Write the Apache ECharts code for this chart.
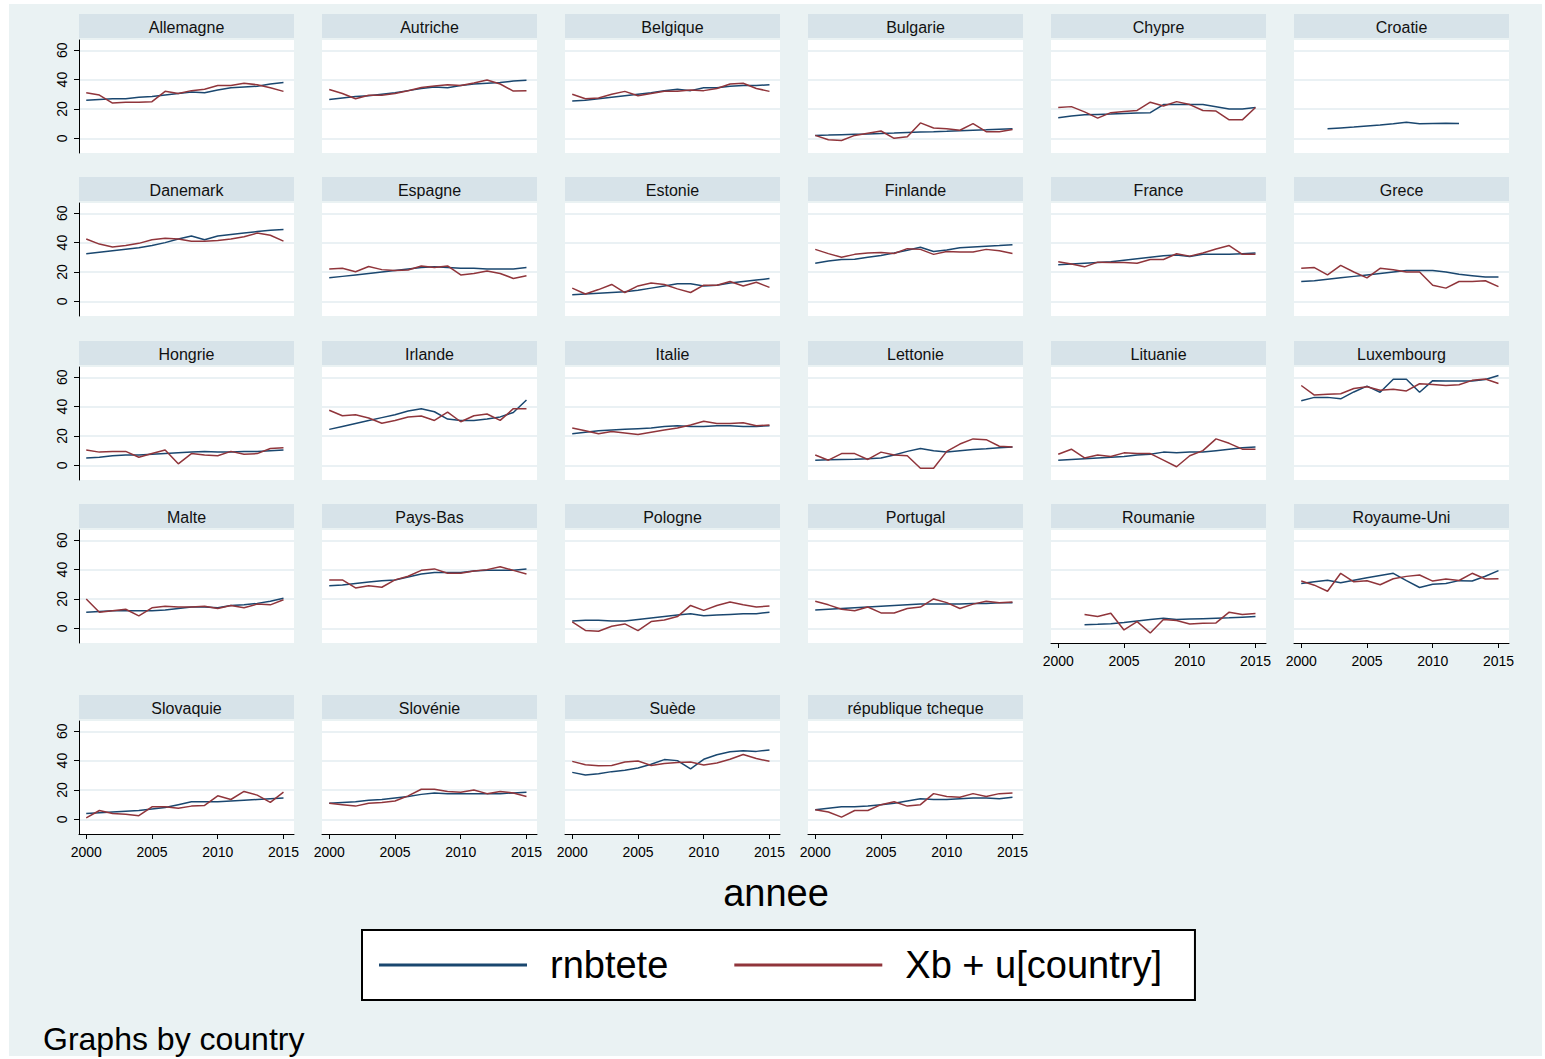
<!DOCTYPE html>
<html><head><meta charset="utf-8">
<script src="https://cdn.jsdelivr.net/npm/echarts@6/dist/echarts.min.js"></script>
<style>
html,body{margin:0;padding:0;background:#fff;}
#bg{position:absolute;left:9px;top:4px;width:1533px;height:1052px;background:#eaf2f3;}
#c{position:absolute;left:0;top:0;width:1545px;height:1059px;}
</style>
</head><body><div id="bg"></div><div id="c"></div>
<script>
const years = [2000,2001,2002,2003,2004,2005,2006,2007,2008,2009,2010,2011,2012,2013,2014,2015];
const xTicks = [2000,2005,2010,2015];
const yTicks = [0,20,40,60];
const countries = ['Allemagne','Autriche','Belgique','Bulgarie','Chypre','Croatie',
  'Danemark','Espagne','Estonie','Finlande','France','Grece',
  'Hongrie','Irlande','Italie','Lettonie','Lituanie','Luxembourg',
  'Malte','Pays-Bas','Pologne','Portugal','Roumanie','Royaume-Uni',
  'Slovaquie','Slovénie','Suède','république tcheque'];

const allemagne_rnb = [26,26.5,27,27,28,28.5,29.5,30.5,31.5,31,33,34.5,35,35.5,37,38];
const allemagne_xb  = [31,29.5,24,24.5,24.5,25,32,30.5,32.5,33.5,36,36,37.5,36.5,34.5,32];
const autriche_rnb = [26.5,27.5,28.5,29,30,31,32.5,34,35,34.5,36,37,37.5,38,39,39.5];
const autriche_xb  = [33.3,30.5,27,29.4,29.4,30.5,32.4,34.7,35.6,36.5,36,37.7,39.8,37,32.2,32.4];
const belgique_rnb = [25.5,26,27,28,29,30,31,32.5,33.5,32.5,34.5,34.5,35.5,36,36,36.5];
const belgique_xb  = [30,27,27.5,30,32,29,30.5,32,32,33,32.5,34,37,37.5,34,32];
const bulgarie_rnb = [2,2.2,2.5,2.8,3,3.3,3.6,4,4.3,4.5,4.8,5.2,5.5,5.8,6.2,6.5];
const bulgarie_xb  = [2,-1,-1.5,2,3.5,5,0,1,10.5,7,6.5,5.5,10,4.5,4.5,6];
const chypre_rnb = [14,15.2,16,16.3,16.6,17,17.3,17.5,23,23,23,23,21.5,20,20,21];
const chypre_xb  = [21,21.6,18,13.8,17.5,18.3,19,24.6,22,25,23,19,18.6,12.6,12.6,21];
const croatie_rnb = [null,null,6.5,7.1,7.7,8.4,9.1,9.9,11,10,10.1,10.2,10.1,null,null,null];
const croatie_xb  = [null,null,null,null,null,null,null,null,null,null,null,null,null,null,null,null];
const danemark_rnb = [32.5,33.5,34.5,35.5,36.5,38,40,42.5,44.5,42,44.5,45.5,46.5,47.5,48.5,49];
const danemark_xb  = [42.5,39,37,38,39.5,42,43,42.5,41,41,41.5,42.5,44,46.5,45,41];
const espagne_rnb = [16,17,18,19,20,21,22,23,23.5,23,22.5,22.5,22,22,22,23];
const espagne_xb  = [22,22.5,20.2,23.7,21.6,21,21.4,24.1,23,24.1,18,19,20.7,19,15.6,17.5];
const estonie_rnb = [4.5,5,5.5,6,6.5,7.5,9,10.5,12,12,10.5,11,12.5,13.5,14.5,15.5];
const estonie_xb  = [9,5,8,11.5,6,10.5,12.5,11.5,8.5,6,11,11,13.5,10.5,13,9.5];
const finlande_rnb = [26,27.5,28.5,28.7,30,31.3,33,34.8,36.8,34,35,36.5,37,37.5,38,38.6];
const finlande_xb  = [35.4,32.5,30,32,33,33.3,32.6,35.9,35.4,32,34,33.6,33.6,35.4,34.5,32.6];
const france_rnb = [25,25.5,26,26.5,27,28,29,30,31,31.5,30.5,32,32,32,32.5,33];
const france_xb  = [27,25.5,23.5,26.7,26.5,26.5,26,28.5,28.5,32.4,30.8,32.9,35.6,38,32,32];
const grece_rnb = [13.5,14,15,16,17,18,19,20,21,21,21,20,18.5,17.5,16.5,16.5];
const grece_xb  = [22.5,23,18,24.5,20,16,22.5,21.5,20,20,11,9,13.5,13.5,14,10];
const hongrie_rnb = [5,5.5,6.5,7,7,7.5,8,8.5,9,9.5,9,9,9.5,9.5,10,10.5];
const hongrie_xb  = [10.5,9,9.5,9.5,5.5,8,10.5,1,8,7,6.5,9.5,7.5,8,11.5,12];
const irlande_rnb = [24.5,26.5,28.5,30.5,32.5,34.5,37,38.5,36.5,31.5,30.5,30.5,31.5,33,36,44.5];
const irlande_xb  = [37.5,33.8,34.5,32.2,28.7,30.6,32.9,33.6,30.6,36.3,29.7,33.8,35,30.6,38.6,38.6];
const italie_rnb = [21.5,22.5,23.5,24,24.5,25,25.5,26.5,27,26.5,26.5,27,27,26.5,26.5,27];
const italie_xb  = [25.5,23.5,21.5,23,22,21,22.5,24,25.5,27.5,30,28.5,28.5,29,27,27.5];
const lettonie_rnb = [3.5,3.8,4,4.2,4.5,5,7,9.5,11.5,10,9,10,10.8,11.3,12,12.5];
const lettonie_xb  = [7,3.5,8,8,4,9,7,6.5,-2,-2,9.5,14.5,18,17.5,13,12.5];
const lituanie_rnb = [3.5,4,4.5,5,5.5,6,7,7.5,9,8.5,9,9,10,11,12,12.5];
const lituanie_xb  = [7.5,11,5,7,6,8.5,8,8,3.5,-1,6.5,10,18,15,11,11];
const luxembourg_rnb = [44,46.3,46.3,45.3,50,54,49.8,58.6,58.6,49.8,57.7,57.5,57.5,57.5,58.5,61.2];
const luxembourg_xb  = [54.4,47.9,48.4,48.8,52.3,53.5,51.2,51.9,50.7,55.6,55.1,54.4,54.9,57.9,58.8,55.8];
const malte_rnb = [11,11.5,12,12,12,12,12.5,13.5,14.5,14.5,14,15.5,16,17,18.5,20.5];
const malte_xb  = [20,11,12,13,8.5,14,15,14.5,14.5,15,13.5,15.5,14,16.5,16,19.5];
const paysbas_rnb = [29,29.5,30.5,31.5,32.5,33,35,37,38,38,38,39,39.5,39.5,39.5,40.5];
const paysbas_xb  = [33,33,27.5,29,28,33,35.5,39.5,40.5,37.5,37.5,39,40,42,39.5,37];
const pologne_rnb = [5,5.5,5.5,5,5,6,7,8,9,10,8.5,9,9.5,10,10,11];
const pologne_xb  = [4.4,-1.4,-2,1.4,3,-1.6,4.6,5.7,8,15.6,12.2,15.5,17.9,16,14.5,15.2];
const portugal_rnb = [12.5,13,13.5,14,14.5,15,15.5,16,16.5,16.5,16.5,16.5,17,17,17.5,17.5];
const portugal_xb  = [18.5,16,13,12,14.5,10.5,10.5,13.5,14.5,20,17.5,13.5,16.5,18.5,17.5,18];
const roumanie_rnb = [null,null,2.5,2.8,3.2,4,5,6,6.9,6,6.3,6.6,6.9,7.2,7.6,8];
const roumanie_xb  = [null,null,9.4,8,10.3,-1.1,4.6,-3.2,6,5.3,3,3.5,3.7,11,9.4,10.1];
const royaumeuni_rnb = [30.6,31.7,32.7,31,32.8,34.5,36,37.5,32.5,27.8,30.1,30.6,32.5,32.2,35.5,39.3];
const royaumeuni_xb  = [32.2,29.4,25.3,37.5,31.7,32.4,29.7,33.8,35.4,36.3,32.2,33.6,32.6,37.5,33.6,33.8];
const slovaquie_rnb = [4,4.5,5,5.5,6,7,8,10,12,12,12,12.5,13,13.5,14,14.5];
const slovaquie_xb  = [1,6,4,3.5,2.5,8.5,8.5,7.5,9,9.5,16,13.5,19,16.5,11.5,18.5];
const slovenie_rnb = [11,11.5,12,13,13.5,14.5,15.5,17,18,17.5,17.5,17.5,17.5,17.5,18,18.5];
const slovenie_xb  = [11,10,9,11,11.5,12.5,16,20.5,20.5,19,18.5,20,17.5,19,18,15.5];
const suede_rnb = [32,30.2,31,32.5,33.5,35,37.5,40.7,40,34.4,40.9,44,46,46.7,46.3,47.2];
const suede_xb  = [39.5,37.2,36.5,36.7,39,39.8,36.7,38.1,38.8,39,37,38.4,40.9,44.2,41.4,39.5];
const tcheque_rnb = [6.5,7.5,8.5,8.5,9,10,11,12.5,14,13.5,13.5,14,14.5,14.5,14,15];
const tcheque_xb  = [6.5,5,1.5,6,6,10,12,9,10,17.5,15.5,15,17.5,15.5,17.5,18];

const rnbList = [allemagne_rnb,autriche_rnb,belgique_rnb,bulgarie_rnb,chypre_rnb,croatie_rnb,
  danemark_rnb,espagne_rnb,estonie_rnb,finlande_rnb,france_rnb,grece_rnb,
  hongrie_rnb,irlande_rnb,italie_rnb,lettonie_rnb,lituanie_rnb,luxembourg_rnb,
  malte_rnb,paysbas_rnb,pologne_rnb,portugal_rnb,roumanie_rnb,royaumeuni_rnb,
  slovaquie_rnb,slovenie_rnb,suede_rnb,tcheque_rnb];
const xbList = [allemagne_xb,autriche_xb,belgique_xb,bulgarie_xb,chypre_xb,croatie_xb,
  danemark_xb,espagne_xb,estonie_xb,finlande_xb,france_xb,grece_xb,
  hongrie_xb,irlande_xb,italie_xb,lettonie_xb,lituanie_xb,luxembourg_xb,
  malte_xb,paysbas_xb,pologne_xb,portugal_xb,roumanie_xb,royaumeuni_xb,
  slovaquie_xb,slovenie_xb,suede_xb,tcheque_xb];

const FONT = 'Liberation Sans, Arial, sans-serif';
const BLUE = '#1a476f', RED = '#90353b';
const rowTops = [40, 203, 367, 530, 721];
const PW = 215, PH = 113;

const grids = [], xAxes = [], yAxes = [], series = [], graphics = [];
countries.forEach((name, i) => {
  const r = Math.floor(i / 6), c = i % 6;
  const left = 79 + 243 * c, top = rowTops[r];
  grids.push({left, top, width: PW, height: PH, show: true, backgroundColor: '#fff', borderWidth: 0, containLabel: false, outerBoundsMode: 'none'});
  const showX = r === 4 || (r === 3 && c >= 4);
  const showY = c === 0;
  xAxes.push({
    gridIndex: i, type: 'value', min: 1999.45, max: 2015.8, show: showX,
    axisLine: {show: true, onZero: false, lineStyle: {color: '#000', width: 1}},
    axisTick: {show: true, length: 5, customValues: xTicks, lineStyle: {color: '#000', width: 1}},
    axisLabel: {show: true, customValues: xTicks, margin: 11, fontSize: 14, fontFamily: FONT, color: '#000', hideOverlap: false,
      formatter: v => String(Math.round(v))},
    splitLine: {show: false}
  });
  yAxes.push({
    gridIndex: i, type: 'value', min: -10, max: 67,
    axisLine: {show: showY, onZero: false, lineStyle: {color: '#000', width: 1}},
    axisTick: {show: showY, length: 5, customValues: yTicks, lineStyle: {color: '#000', width: 1}},
    axisLabel: {show: showY, customValues: yTicks, rotate: 90, margin: 10, fontSize: 14, fontFamily: FONT, color: '#000'},
    splitLine: {show: true, lineStyle: {color: '#e3edf0', width: 1.5}}
  });
  series.push({
    name: 'rnbtete', type: 'line', xAxisIndex: i, yAxisIndex: i,
    data: years.map((y, k) => [y, rnbList[i][k]]),
    showSymbol: false, symbol: 'none', connectNulls: false, silent: true,
    lineStyle: {color: BLUE, width: 1.5}, itemStyle: {color: BLUE}, z: 2
  });
  series.push({
    name: 'Xb + u[country]', type: 'line', xAxisIndex: i, yAxisIndex: i,
    data: years.map((y, k) => [y, xbList[i][k]]),
    showSymbol: false, symbol: 'none', connectNulls: false, silent: true,
    lineStyle: {color: RED, width: 1.5}, itemStyle: {color: RED}, z: 3
  });
  graphics.push({type: 'rect', shape: {x: left, y: top - 26, width: PW, height: 24}, style: {fill: '#d7e3e9'}, silent: true});
  graphics.push({type: 'text', x: left + PW / 2, y: top - 13, silent: true,
    style: {text: name, fontSize: 16, fontFamily: FONT, fill: '#111', align: 'center', verticalAlign: 'middle', textAlign: 'center', textVerticalAlign: 'middle'}});
});

graphics.push({type: 'text', x: 776, y: 893, silent: true,
  style: {text: 'annee', fontSize: 38, fontFamily: FONT, fill: '#000', align: 'center', verticalAlign: 'middle', textAlign: 'center', textVerticalAlign: 'middle'}});
graphics.push({type: 'text', x: 43, y: 1039, silent: true,
  style: {text: 'Graphs by country', fontSize: 32, fontFamily: FONT, fill: '#000', align: 'left', verticalAlign: 'middle', textAlign: 'left', textVerticalAlign: 'middle'}});

const chart = echarts.init(document.getElementById('c'), null, {renderer: 'svg'});
chart.setOption({
  animation: false,
  backgroundColor: 'transparent',
  grid: grids, xAxis: xAxes, yAxis: yAxes, series: series,
  legend: {
    left: 362, top: 930, orient: 'horizontal', icon: 'rect', itemWidth: 148, itemHeight: 3, itemGap: 66,
    selectedMode: false, padding: [15, 33, 15, 17], borderColor: '#000', borderWidth: 2, backgroundColor: '#fff',
    textStyle: {fontSize: 38, fontFamily: FONT, color: '#000', padding: [0, 0, 0, 18], lineHeight: 40},
    data: ['rnbtete', 'Xb + u[country]']
  },
  graphic: graphics
});
</script>
</body></html>
